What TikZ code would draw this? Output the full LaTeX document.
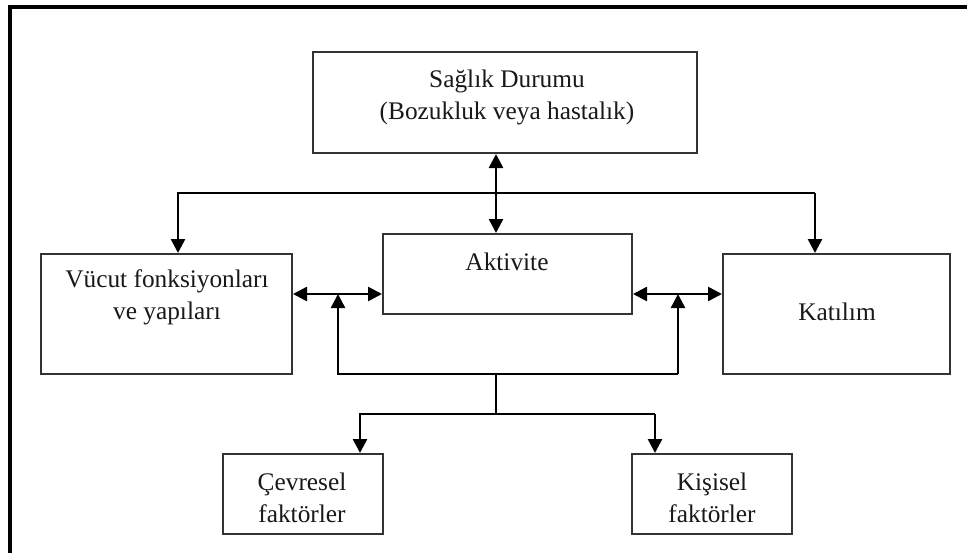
\documentclass[tikz,border=0pt]{standalone}
\usepackage{fontspec}
\setmainfont{Liberation Serif}
\usetikzlibrary{arrows.meta}

\begin{document}
\begin{tikzpicture}[x=0.75pt, y=-0.75pt,
  box/.style={draw=black!80, line width=1.5pt, fill=white, inner sep=0pt},
  boxtext/.style={font=\fontsize{19}{24}\selectfont, align=center, text=black!90},
  link/.style={line width=1.9pt, line join=miter},
  arr/.style={link, -{Triangle[length=10.5pt,width=10.5pt]}},
  darr/.style={link, {Triangle[length=10.5pt,width=10.5pt]}-{Triangle[length=10.5pt,width=10.5pt]}}]

  \useasboundingbox (0,0) rectangle (967,553);

  % --- Outer frame ---
  \draw[line width=2.4pt] (10,553) -- (10,7) -- (967,7);

  % --- Boxes ---
  \node[box, minimum width=288pt, minimum height=75.75pt] (saglik) at (505,102.5) {};
  \node[box, minimum width=188.25pt, minimum height=90pt] (vucut) at (166.5,314) {};
  \node[box, minimum width=186.75pt, minimum height=60pt] (aktivite) at (507.5,274) {};
  \node[box, minimum width=170.25pt, minimum height=90pt] (katilim) at (836.5,314) {};
  \node[box, minimum width=120pt, minimum height=60pt] (cevresel) at (303,494) {};
  \node[box, minimum width=120pt, minimum height=60pt] (kisisel) at (712,494) {};

  % --- Box texts ---
  \node[boxtext] (saglikText) at (507,97) {Sağlık Durumu\\(Bozukluk veya hastalık)};
  \node[boxtext] (vucutText) at (167,297.5) {Vücut fonksiyonları\\ve yapıları};
  \node[boxtext] (aktiviteText) at (507,262) {Aktivite};
  \node[boxtext] (katilimText) at (837,312) {Katılım};
  \node[boxtext] (cevreselText) at (302,497.5) {Çevresel\\faktörler};
  \node[boxtext] (kisiselText) at (712,497.5) {Kişisel\\faktörler};

  % --- Bus points ---
  \coordinate (topBusL) at (178,193);
  \coordinate (topBusR) at (815,193);
  \coordinate (jointL) at (338,294);
  \coordinate (jointR) at (678,294);
  \coordinate (lowBusL) at (338,374);
  \coordinate (lowBusR) at (678,374);
  \coordinate (trunkTop) at (496,374);
  \coordinate (trunkBot) at (496,414);
  \coordinate (branchL) at (360,414);
  \coordinate (branchR) at (655,414);

  % --- Top bus ---
  \draw[arr] (topBusR) -- (topBusL) -- (vucut.north -| topBusL);
  \draw[arr] (topBusR) -- (katilim.north -| topBusR);
  \draw[darr] (saglik.south -| trunkTop) -- (aktivite.north -| trunkTop);

  % --- Side links ---
  \draw[darr] (vucut.east |- jointL) -- (aktivite.west |- jointL);
  \draw[darr] (aktivite.east |- jointR) -- (katilim.west |- jointR);

  % --- Lower bus ---
  \draw[arr] (lowBusR) -- (lowBusL) -- (jointL);
  \draw[arr] (lowBusR) -- (jointR);
  \draw[link] (trunkTop) -- (trunkBot);
  \draw[arr] (branchR) -- (branchL) -- (cevresel.north -| branchL);
  \draw[arr] (branchR) -- (kisisel.north -| branchR);

\end{tikzpicture}
\end{document}
